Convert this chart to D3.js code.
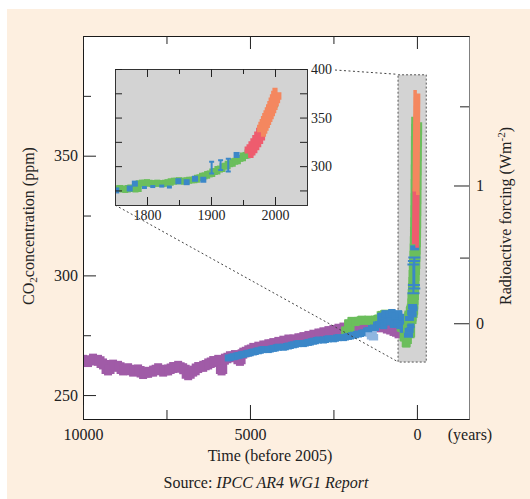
<!DOCTYPE html>
<html>
<head>
<meta charset="utf-8">
<script src="https://cdn.jsdelivr.net/npm/d3@7"></script>
<style>
  body { margin: 0; background: #fff; }
  text { font-family: "Liberation Serif", "Times New Roman", serif; fill: #222; }
</style>
</head>
<body>
<script>
// CO2 over the last 10,000 years, with an inset for 1750-2005

// long records, years before 2005 / ppm
let purpleBP = [[10000,264.5],[9850,264],[9700,265],[9550,264.5],[9400,263],[9250,260.5],[9100,262.5],[8950,262],
    [8800,260.5],[8650,261],[8500,260],[8350,260.5],[8200,259],[8050,259.5],[7900,260],[7750,261],[7600,260],
    [7450,260.5],[7300,261.5],[7150,262],[7000,261],[6850,258.5],[6700,260],[6550,261.5],[6400,262],[6250,263],
    [6100,264],[5950,264.5],[5850,260.5],[5750,265],[5600,266],[5450,266.5],[5300,264.5],[5200,267.5],[5050,268.5],
    [4900,269.5],[4750,270],[4600,270.5],[4450,271],[4300,271.5],[4150,272],[4000,272.5],[3850,273],[3700,273],
    [3550,273.5],[3400,274],[3250,274.5],[3100,275],[2950,275.5],[2800,276],[2650,276.5],[2500,277],[2350,277.5],
    [2200,278],[2050,278],[1900,278.5],[1700,278],[1500,278.5],[1300,279],[1100,278.5],[900,278],[700,277],[550,276]];

let blueBP = [[5650,265.5],[5500,266],[5350,266.5],[5200,267],[5050,267.5],[4900,268],[4750,268.5],[4600,269],
    [4450,269],[4300,269.5],[4150,270],[4000,270],[3850,270.5],[3700,271],[3550,271.5],[3400,271.5],[3250,272],
    [3100,272.5],[2950,273],[2800,273],[2650,273.5],[2500,273.5],[2350,274],[2200,274],[2050,274.5],[1900,275],
    [1750,275.5],[1600,276],[1450,277],[1300,278],[1150,279.5],[1050,283],[1000,279],[950,284],[900,280.5],
    [850,283.5],[800,281],[750,284.5],[700,279.5],[650,283],[600,280],[550,284],[500,279],[450,282.5],[400,277.5],
    [350,281],[300,279],[250,277]];

let lightBlueBP = [[1500,274.5],[1400,275],[1300,274],[1200,275.5]];

let greenBP = [[2150,277],[2100,276],[2050,280],[2000,278],[1950,281],[1850,280.5],[1750,281],[1650,281.5],
    [1550,281],[1450,281.5],[1350,281],[1250,281.5],[1150,282],[1050,283.5],[950,284],[850,283.5],[750,282.5],
    [650,281.5],[550,280],[450,278],[380,274],[320,271.5],[270,273]];

// industrial era, calendar years / ppm (drawn in both panels)
let greenAD = [[1750,276.5],[1758,277],[1766,276],[1774,277.5],[1782,276.5],[1792,282.5],[1800,283],[1808,282],
    [1816,282.5],[1824,282],[1832,283],[1842,284.5],[1850,285],[1858,284.5],[1866,285.5],[1874,286],[1882,288],
    [1890,290],[1898,292],[1906,294.5],[1914,297],[1922,300],[1930,302.5],[1938,305],[1946,308],[1954,311],
    [1960,314],[1964,318],[1968,322],[1972,327],[1976,332],[1980,338],[1984,344],[1988,350],[1992,356],
    [1996,361],[2000,364]];
let blueSquaresAD = [[1752,275],[1773,277],[1781,282],[1849,284.5],[1862,283.5],[1875,287],[1888,286],[1940,311.5]];
let blueDashesAD = [[1796,278],[1809,279],[1823,279.5],[1835,278.5]];
let blueBarsAD = [[1901,298.5,6],[1915,301,5],[1927,301,6.5]];   // year, ppm, +/- error
let redAD = [[1958,313],[1961,315.5],[1964,318],[1967,321],[1970,324],[1973,327.5],[1976,331],[1979,335]];
let orangeAD = [[1978,335],[1980,338],[1982,341],[1984,344],[1986,347],[1988,350],[1990,353],[1992,356],
    [1994,359],[1996,362.5],[1998,366],[2000,369.5],[2002,373],[2004,376]];

// ticks
let xTicks = [10000, 5000, 0], xMinorTicks = [7500, 2500];
let yTicks = [250, 300, 350], yMinorTicks = [275, 325, 375];
let forcingTicks = [0, 1], forcingMinorTicks = [0.5, 1.5];
let insetXTicks = [1800, 1900, 2000], insetXMinorTicks = [1850, 1950];
let insetYTicks = [300, 350, 400], insetYMinorTicks = [275, 325, 375];
let zoomBox = {from: 580, to: -265, lo: 264, hi: 384};

let toPpm = f => 280 * Math.exp(f / 5.35);   // radiative forcing -> concentration

let colors = {purple: "#a05ba7", blue: "#3b87c8", lightBlue: "#8fb6e0", green: "#6bbe5c",
              red: "#ee5c6e", orange: "#f4875f", gray: "#d3d3d3"};

let plot = {left: 83, right: 469, top: 36, bottom: 419};
let inset = {left: 115, right: 307, top: 69, bottom: 205};

let svg = d3.select("body").append("svg")
    .attr("width", 530)
    .attr("height", 499);

svg.append("rect")
    .attr("x", 7).attr("y", 9)
    .attr("width", 523).attr("height", 490)
    .attr("fill", "#fdefe0");

let x = d3.scaleLinear().domain([10000, -1560]).range([plot.left, plot.right]);
let y = d3.scaleLinear().domain([240, 400]).range([plot.bottom, plot.top]);
let ix = d3.scaleLinear().domain([1750, 2050]).range([inset.left, inset.right]);
let iy = d3.scaleLinear().domain([260, 400]).range([inset.bottom, inset.top]);

svg.append("rect")
    .attr("x", plot.left).attr("y", plot.top)
    .attr("width", plot.right - plot.left).attr("height", plot.bottom - plot.top)
    .attr("fill", "#fff");

let defs = svg.append("defs");
defs.append("clipPath").attr("id", "clipMain").append("rect")
    .attr("x", plot.left).attr("y", plot.top)
    .attr("width", plot.right - plot.left).attr("height", plot.bottom - plot.top);
defs.append("clipPath").attr("id", "clipInset").append("rect")
    .attr("x", inset.left).attr("y", inset.top)
    .attr("width", inset.right - inset.left).attr("height", inset.bottom - inset.top);

// zoom box behind the data
svg.append("rect")
    .attr("x", x(zoomBox.from) + 0.5).attr("y", y(zoomBox.hi) + 0.5)
    .attr("width", x(zoomBox.to) - x(zoomBox.from)).attr("height", y(zoomBox.lo) - y(zoomBox.hi))
    .attr("fill", colors.gray)
    .attr("stroke", "#555")
    .attr("stroke-dasharray", "2,2");

// blocky band: thick step line through the points
function band(g, data, xf, yf, w, color) {
    g.append("path")
        .datum(data)
        .attr("d", d3.line().x(d => xf(d[0])).y(d => yf(d[1])).curve(d3.curveStep))
        .attr("fill", "none")
        .attr("stroke", color)
        .attr("stroke-width", w);
}

function blocks(g, data, xf, yf, w, h, color) {
    g.append("g").selectAll("rect")
        .data(data)
        .join("rect")
            .attr("x", d => xf(d[0]) - w / 2)
            .attr("y", d => yf(d[1]) - h / 2)
            .attr("width", w)
            .attr("height", h)
            .attr("fill", color);
}

function errorBars(g, data, xf, yf, cap, color) {
    g.append("g").selectAll("path")
        .data(data)
        .join("path")
            .attr("d", d => {
                let cx = xf(d[0]), y0 = yf(d[1] - d[2]), y1 = yf(d[1] + d[2]);
                return `M${cx - cap / 2},${y0}H${cx + cap / 2}M${cx},${y0}V${y1}M${cx - cap / 2},${y1}H${cx + cap / 2}`;
            })
            .attr("fill", "none")
            .attr("stroke", color)
            .attr("stroke-width", 2);
}

// main panel data
let gMain = svg.append("g").attr("clip-path", "url(#clipMain)");
let bp = d => x(d), ad = d => x(2005 - d);

band(gMain, purpleBP, bp, y, 8, colors.purple);
blocks(gMain, purpleBP, bp, y, 8, 11, colors.purple);
band(gMain, greenBP, bp, y, 7, colors.green);
blocks(gMain, greenBP, bp, y, 8, 8, colors.green);
band(gMain, blueBP, bp, y, 6, colors.blue);
blocks(gMain, blueBP, bp, y, 7, 7, colors.blue);
band(gMain, lightBlueBP, bp, y, 6, colors.lightBlue);
band(gMain, greenAD, ad, y, 11, colors.green);
blocks(gMain, blueSquaresAD, ad, y, 9, 5, colors.blue);
blocks(gMain, blueDashesAD, ad, y, 7, 2, colors.blue);
errorBars(gMain, blueBarsAD, ad, y, 12, colors.blue);
band(gMain, redAD, ad, y, 7, colors.red);
band(gMain, orangeAD, ad, y, 7, colors.orange);

// inset
svg.append("rect")
    .attr("x", inset.left).attr("y", inset.top)
    .attr("width", inset.right - inset.left).attr("height", inset.bottom - inset.top)
    .attr("fill", colors.gray);

let gInset = svg.append("g").attr("clip-path", "url(#clipInset)");
band(gInset, greenAD, ix, iy, 6, colors.green);
blocks(gInset, greenAD, ix, iy, 6, 7, colors.green);
blocks(gInset, blueSquaresAD, ix, iy, 6, 6, colors.blue);
blocks(gInset, blueDashesAD, ix, iy, 5, 3, colors.blue);
errorBars(gInset, blueBarsAD, ix, iy, 5, colors.blue);
band(gInset, redAD, ix, iy, 9, colors.red);
band(gInset, orangeAD, ix, iy, 9, colors.orange);

// dotted connectors
let conn = svg.append("g")
    .attr("stroke", "#444")
    .attr("stroke-dasharray", "2,2.5")
    .attr("fill", "none");
conn.append("line")
    .attr("x1", inset.right + 28).attr("y1", inset.top + 1)
    .attr("x2", x(zoomBox.from)).attr("y2", y(zoomBox.hi));
conn.append("line")
    .attr("x1", inset.left).attr("y1", inset.bottom)
    .attr("x2", x(zoomBox.from)).attr("y2", y(zoomBox.lo));

// frames
svg.append("rect")
    .attr("x", plot.left + 0.5).attr("y", plot.top + 0.5)
    .attr("width", plot.right - plot.left).attr("height", plot.bottom - plot.top)
    .attr("fill", "none").attr("stroke", "#1a1a1a");
svg.append("rect")
    .attr("x", inset.left + 0.5).attr("y", inset.top + 0.5)
    .attr("width", inset.right - inset.left).attr("height", inset.bottom - inset.top)
    .attr("fill", "none").attr("stroke", "#333");

function addAxis(axis, tx, ty, size, keepDomain) {
    let g = svg.append("g")
        .attr("transform", `translate(${tx},${ty})`)
        .call(axis)
        .attr("font-size", size)
        .attr("color", "#222");
    if (!keepDomain) g.select(".domain").remove();
    return g;
}

let fmt = d3.format("d");

// main axes
addAxis(d3.axisBottom(x).tickValues(xTicks).tickSize(-14).tickPadding(10).tickFormat(fmt), 0, plot.bottom, 16);
addAxis(d3.axisBottom(x).tickValues(xMinorTicks).tickSize(-9).tickFormat(""), 0, plot.bottom, 16);
addAxis(d3.axisTop(x).tickValues(xTicks).tickSize(-13).tickFormat(""), 0, plot.top, 16);
addAxis(d3.axisTop(x).tickValues(xMinorTicks).tickSize(-8).tickFormat(""), 0, plot.top, 16);
addAxis(d3.axisLeft(y).tickValues(yTicks).tickSize(-13).tickPadding(5), plot.left, 0, 16);
addAxis(d3.axisLeft(y).tickValues(yMinorTicks).tickSize(-8).tickFormat(""), plot.left, 0, 16);

let right = addAxis(d3.axisRight(y).tickValues(forcingTicks.map(toPpm)).tickSize(-15).tickSizeOuter(0)
    .tickPadding(7).tickFormat((d, i) => forcingTicks[i]), plot.right, 0, 16, true);
right.select(".domain").attr("stroke", "#808080");
addAxis(d3.axisRight(y).tickValues(forcingMinorTicks.map(toPpm)).tickSize(-9).tickFormat(""), plot.right, 0, 16);

// inset axes
addAxis(d3.axisBottom(ix).tickValues(insetXTicks).tickSize(-8).tickPadding(5).tickFormat(fmt), 0, inset.bottom, 14);
addAxis(d3.axisBottom(ix).tickValues(insetXMinorTicks).tickSize(-5).tickFormat(""), 0, inset.bottom, 14);
addAxis(d3.axisTop(ix).tickValues(insetXTicks).tickSize(-8).tickFormat(""), 0, inset.top, 14);
addAxis(d3.axisTop(ix).tickValues(insetXMinorTicks).tickSize(-5).tickFormat(""), 0, inset.top, 14);
addAxis(d3.axisRight(iy).tickValues(insetYTicks).tickSize(-7).tickPadding(4), inset.right, 0, 14);
addAxis(d3.axisRight(iy).tickValues(insetYMinorTicks).tickSize(-7).tickFormat(""), inset.right, 0, 14);
addAxis(d3.axisLeft(iy).tickValues(insetYTicks.concat(insetYMinorTicks)).tickSize(-7).tickFormat(""), inset.left, 0, 14);

// labels
svg.append("text")
    .attr("x", 470).attr("y", 440)
    .attr("text-anchor", "middle")
    .attr("font-size", 16)
    .text("(years)");

svg.append("text")
    .attr("x", 270).attr("y", 461)
    .attr("text-anchor", "middle")
    .attr("font-size", 16)
    .text("Time (before 2005)");

let src = svg.append("text")
    .attr("x", 266).attr("y", 488)
    .attr("text-anchor", "middle")
    .attr("font-size", 16);
src.append("tspan").text("Source: ");
src.append("tspan").attr("font-style", "italic").text("IPCC AR4 WG1 Report");

let yTitle = svg.append("text")
    .attr("transform", "translate(34,226) rotate(-90)")
    .attr("text-anchor", "middle")
    .attr("font-size", 16);
yTitle.append("tspan").text("CO");
yTitle.append("tspan").attr("font-size", 11).attr("dy", 3).text("2");
yTitle.append("tspan").attr("dy", -3).text("concentration (ppm)");

let fTitle = svg.append("text")
    .attr("transform", "translate(511,216) rotate(-90)")
    .attr("text-anchor", "middle")
    .attr("font-size", 16);
fTitle.append("tspan").text("Radioactive forcing (Wm");
fTitle.append("tspan").attr("font-size", 11).attr("dy", -6).text("-2");
fTitle.append("tspan").attr("dy", 6).text(")");
</script>
</body>
</html>
